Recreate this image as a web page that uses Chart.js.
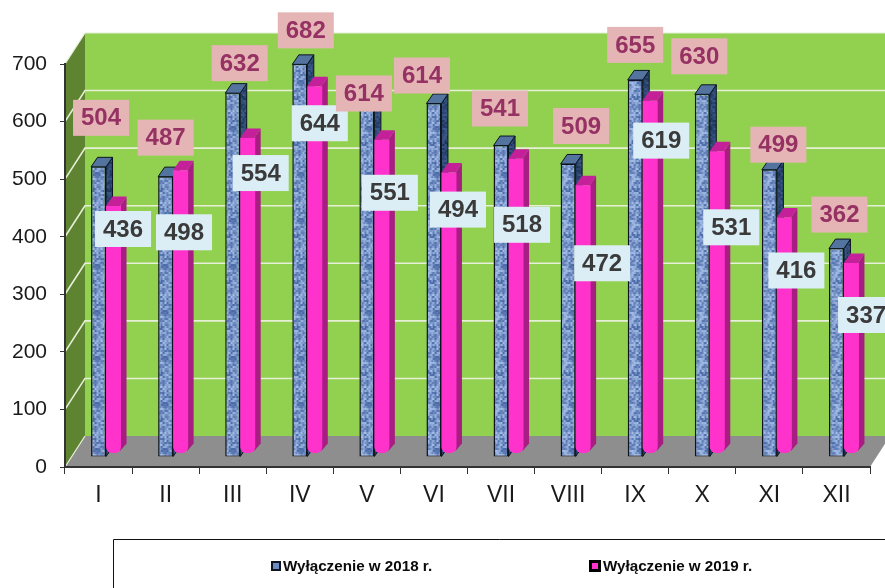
<!DOCTYPE html>
<html><head><meta charset="utf-8">
<style>html,body{margin:0;padding:0;background:#fff;overflow:hidden}#w{width:885px;height:588px}canvas{display:block;filter:blur(0.4px)}</style>
<script src="https://cdn.jsdelivr.net/npm/chart.js@4/dist/chart.umd.min.js"></script>
</head><body><div id="w"><canvas id="c" width="885" height="588"></canvas></div>
<script>
const categories = ['I','II','III','IV','V','VI','VII','VIII','IX','X','XI','XII'];
const values2018 = [504,487,632,682,614,614,541,509,655,630,499,362];
const values2019 = [436,498,554,644,551,494,518,472,619,531,416,337];
const yTicks = [0,100,200,300,400,500,600,700];
const seriesNames = ['Wyłączenie w 2018 r.','Wyłączenie w 2019 r.'];
// label box centre offsets, from the category centre and the value's axis position
const dx2018 = [2.5,0,7,6,-3,-12,-1,13,0,-3,9,3];
const dy2018 = [-59,-49,-40,-44,-20,-38,-47,-48,-45,-48,-35,-44];
const dx2019 = [24.5,18.4,28,20,23,24,21,34,26,29,27,29.6];
const dy2019 = [13,52,25,27,43,27,56,68,30,66,43,42];

const DEPTH_X = 20, DEPTH_Y = 31, BAR_SHIFT_X = 7.5, BAR_SHIFT_Y = -10, SIDE_X = 6.5, SIDE_Y = 9.5;

function texture(r0,g0,b0,r1,g1,b1){
  const c = document.createElement('canvas'); c.width = 17; c.height = 46;
  const x = c.getContext('2d');
  let s = 12345;
  for(let j=0;j<46;j+=2) for(let i=0;i<17;i+=2){
    s = (s*1103515245+12345) & 0x7fffffff;
    const t = ((s>>8)&255)/255;
    x.fillStyle = `rgb(${r0+(r1-r0)*t|0},${g0+(g1-g0)*t|0},${b0+(b1-b0)*t|0})`;
    x.fillRect(i,j,2,2);
  }
  return c;
}
const ctx0 = document.getElementById('c').getContext('2d');
const bluePat = ctx0.createPattern(texture(72,104,165,165,190,232),'repeat');
const blueSidePat = ctx0.createPattern(texture(28,50,88,62,92,140),'repeat');

function poly(ctx,pts,fill,stroke,lw){
  ctx.beginPath(); pts.forEach((p,i)=> i?ctx.lineTo(p[0],p[1]):ctx.moveTo(p[0],p[1])); ctx.closePath();
  if(fill){ctx.fillStyle=fill;ctx.fill();}
  if(stroke){ctx.strokeStyle=stroke;ctx.lineWidth=lw||1;ctx.stroke();}
}

const scene = {
  id:'scene',
  beforeDraw(chart){
    const {ctx,chartArea:a,scales:{y}} = chart;
    const L=a.left,R=a.right,T=a.top,B=a.bottom;
    ctx.save();
    poly(ctx,[[L+DEPTH_X,T-DEPTH_Y],[R+DEPTH_X,T-DEPTH_Y],[R+DEPTH_X,B-DEPTH_Y],[L+DEPTH_X,B-DEPTH_Y]],'#92D14F');
    poly(ctx,[[L,T],[L+DEPTH_X,T-DEPTH_Y],[L+DEPTH_X,B-DEPTH_Y],[L,B]],'#5F8431');
    poly(ctx,[[L,B],[L+DEPTH_X,B-DEPTH_Y],[R+DEPTH_X,B-DEPTH_Y],[R,B]],'#8E8E8E');
    ctx.lineWidth=1.6; ctx.strokeStyle='#E6EFD8';
    yTicks.forEach(v=>{
      if(v===0||v===700) return;
      const p=y.getPixelForValue(v);
      ctx.beginPath();ctx.moveTo(L,p);ctx.lineTo(L+DEPTH_X,p-DEPTH_Y);ctx.lineTo(R+DEPTH_X,p-DEPTH_Y);ctx.stroke();
    });
    ctx.lineWidth=1.2;
    ctx.beginPath();ctx.moveTo(L,B);ctx.lineTo(L+DEPTH_X,B-DEPTH_Y);ctx.stroke();
    ctx.beginPath();ctx.moveTo(L,T);ctx.lineTo(L+DEPTH_X,T-DEPTH_Y);ctx.lineTo(R+DEPTH_X,T-DEPTH_Y);ctx.stroke();
    ctx.restore();
  },
  beforeDatasetsDraw(chart){
    chart.ctx.save();
    chart.ctx.translate(BAR_SHIFT_X,BAR_SHIFT_Y);
  },
  beforeDatasetDraw(chart,args){
    // The library paints the later dataset first; the 2019 bars must lie in front,
    // so they are held back and painted straight after the 2018 bars.
    if(args.index===1) return false;
    const ctx=chart.ctx;
    args.meta.data.forEach(b=>{
      const p=b.getProps(['x','y','base','width']);
      const l=p.x-p.width/2,r=p.x+p.width/2,t=p.y,base=p.base;
      poly(ctx,[[r,t],[r+SIDE_X,t-SIDE_Y],[r+SIDE_X,base-SIDE_Y],[r,base]],blueSidePat,'#0d1420',1);
      poly(ctx,[[l,t],[l+SIDE_X,t-SIDE_Y],[r+SIDE_X,t-SIDE_Y],[r,t]],'#53749F','#0d1420',1);
    });
  },
  afterDatasetDraw(chart,args){
    if(args.index!==0) return;
    const ctx=chart.ctx;
    chart.getDatasetMeta(1).data.forEach(b=>{
      const p=b.getProps(['x','y','base','width']);
      const l=p.x-p.width/2,r=p.x+p.width/2,t=p.y,base=p.base;
      poly(ctx,[[r-1,t],[r+SIDE_X-1,t-SIDE_Y],[r+SIDE_X-1,base-SIDE_Y],[r-1,base-2]],'#A81D82');
      poly(ctx,[[l,t],[l+SIDE_X,t-SIDE_Y],[r+SIDE_X-1,t-SIDE_Y],[r-1,t]],'#C4209A');
      b.draw(ctx);
    });
  },
  afterDatasetsDraw(chart){
    const ctx=chart.ctx;
    ctx.restore();
    const {x,y}=chart.scales;
    ctx.save();
    ctx.font='bold 24px "Liberation Sans", Arial, sans-serif';
    ctx.textAlign='center';ctx.textBaseline='middle';
    const put=(vals,dx,dy,bg,fg)=>vals.forEach((v,i)=>{
      const cx=x.getPixelForValue(i)+dx[i], cy=y.getPixelForValue(v)+dy[i];
      ctx.fillStyle=bg;ctx.fillRect(cx-28,cy-18,56,36);
      ctx.fillStyle=fg;ctx.fillText(String(v),cx,cy+1);
    });
    put(values2019,dx2019,dy2019,'#DCEEF5','#3A3A3A');
    put(values2018,dx2018,dy2018,'#E5B5B5','#953163');
    ctx.restore();
  },
  afterDraw(chart){
    const ctx=chart.ctx;
    ctx.save();
    // legend frame runs off the page on the right and the bottom
    ctx.strokeStyle='#111';ctx.lineWidth=1;
    ctx.beginPath();ctx.moveTo(113.5,588);ctx.lineTo(113.5,539.5);ctx.lineTo(885,539.5);ctx.stroke();
    ctx.font='bold 15.2px "Liberation Sans", Arial, sans-serif';
    ctx.textBaseline='middle';ctx.textAlign='left';ctx.fillStyle='#0a0a0a';
    ctx.fillText(seriesNames[0],283,566.5);
    ctx.fillText(seriesNames[1],603,566.5);
    ctx.fillStyle='#10141c';ctx.fillRect(271,561,10,10);
    ctx.fillStyle='#6B8CC6';ctx.fillRect(273,563,6,6);
    ctx.fillStyle='#000';ctx.fillRect(589,560,12,12);
    ctx.fillStyle='#FF33CC';ctx.fillRect(592,563,6,6);
    ctx.restore();
  }
};

new Chart(document.getElementById('c'),{
  type:'bar',
  data:{labels:categories,datasets:[
    {label:seriesNames[0],data:values2018,backgroundColor:bluePat,borderColor:'#0d1420',
     borderWidth:{left:1.5,right:1.5,top:1,bottom:1},borderSkipped:false},
    {label:seriesNames[1],data:values2019,backgroundColor:'#FF33CC',base:7,borderWidth:0,
     borderRadius:{topLeft:0,topRight:0,bottomLeft:6,bottomRight:6},borderSkipped:false}
  ]},
  options:{
    responsive:false,animation:false,
    layout:{padding:{left:0,right:15,top:64,bottom:0}},
    datasets:{bar:{categoryPercentage:0.447,barPercentage:1,clip:false}},
    plugins:{legend:{display:false},tooltip:{enabled:false}},
    scales:{
      x:{
        afterFit(s){s.height=121;},
        grid:{drawOnChartArea:false,color:'#333',tickLength:7,offset:true},
        border:{color:'#333',width:2},
        ticks:{font:{size:23,family:'"Liberation Sans", Arial, sans-serif'},color:'#1a1a1a',padding:8,maxRotation:0,autoSkip:false}
      },
      y:{
        min:0,max:700,
        afterFit(s){s.width=65;},
        afterBuildTicks(s){s.ticks=yTicks.map(v=>({value:v}));},
        grid:{drawOnChartArea:false,color:'#333',tickLength:5},
        border:{color:'#333',width:2},
        ticks:{font:{size:21,family:'"Liberation Sans", Arial, sans-serif'},color:'#1a1a1a',padding:13}
      }
    }
  },
  plugins:[scene]
});
</script></body></html>
